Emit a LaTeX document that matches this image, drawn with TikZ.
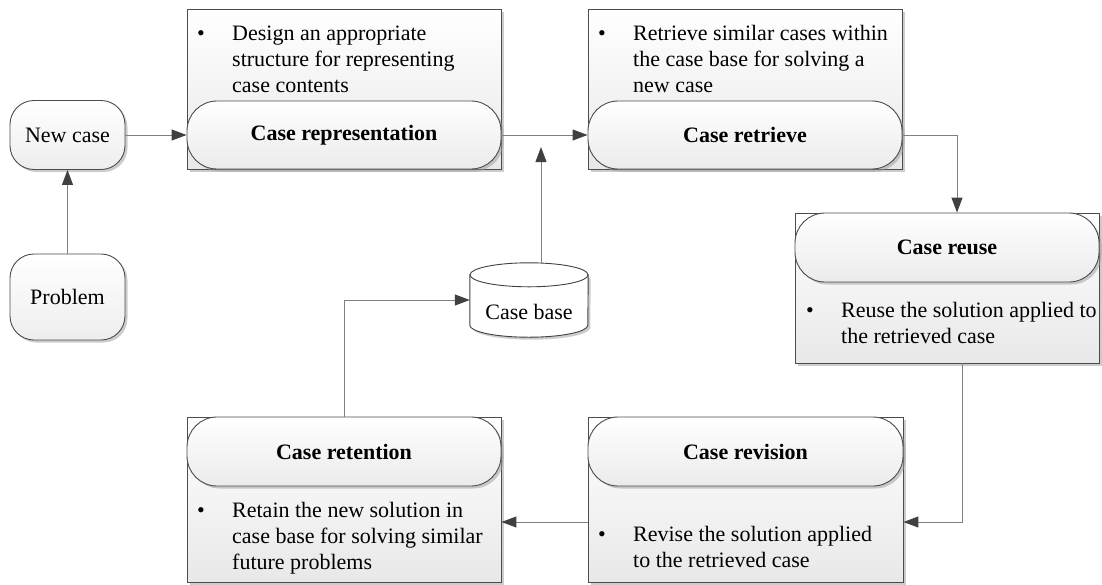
\documentclass[tikz,border=0pt]{standalone}
\usepackage{fontspec}
\setmainfont{Liberation Serif}
\usetikzlibrary{arrows.meta,shadows,calc}
\newcommand\bulletlist[1]{\begin{tabular}[t]{@{}p{35pt}@{}l@{}}\textbullet & #1\end{tabular}}
\begin{document}
\begin{tikzpicture}[x=1pt,y=-1pt,
  txt/.style={font=\fontsize{22}{26}\selectfont},
  shad/.style={drop shadow={shadow xshift=2.5pt, shadow yshift=-2.5pt, fill=black!40, opacity=0.5}},
  outerbox/.style={draw=black!70, line width=0.9pt, top color=white, bottom color=black!9, shad, inner sep=0},
  titlebox/.style={outerbox, rounded corners=30pt, top color=white, bottom color=black!8,
     font=\fontsize{22}{26}\selectfont\bfseries},
  smallbox/.style={outerbox, rounded corners=24pt, bottom color=black!7, txt},
  bullettext/.style={txt, inner sep=0, anchor=base west},
  conn/.style={draw=black!50, line width=1pt},
  arr/.style={conn, -{Triangle[length=15pt,width=11pt,fill=black!75,color=black!75]}},
  cyl/.style={draw=black!75, line width=0.9pt, fill=white}
]
\useasboundingbox (0,0) rectangle (1102,584);

% left nodes
\node[smallbox, minimum width=115pt, minimum height=69pt] (new) at (67.5,135) {New case};
\node[smallbox, minimum width=115pt, minimum height=86pt] (prob) at (67.5,297) {Problem};

% case representation
\node[outerbox, minimum width=314pt, minimum height=160pt] (repO) at (344,89) {};
\node[titlebox, minimum width=314pt, minimum height=68pt] (repT) at (344,135) {Case representation};
\node[bullettext] (repD) at (197,40) {\bulletlist{Design an appropriate\\ & structure for representing\\ & case contents}};

% case retrieve
\node[outerbox, minimum width=314pt, minimum height=160pt] (retrO) at (745,89) {};
\node[titlebox, minimum width=314pt, minimum height=68pt] (retrT) at (745,135) {Case retrieve};
\node[bullettext] (retrD) at (598,40) {\bulletlist{Retrieve similar cases within\\ & the case base for solving a\\ & new case}};

% case reuse
\node[outerbox, minimum width=304pt, minimum height=150pt] (reuseO) at (947,288) {};
\node[titlebox, minimum width=304pt, minimum height=69pt] (reuseT) at (947,247.5) {Case reuse};
\node[bullettext] (reuseD) at (806,317) {\bulletlist{Reuse the solution applied to\\ & the retrieved case}};

% case revision
\node[outerbox, minimum width=315pt, minimum height=165pt] (revO) at (745.5,499.5) {};
\node[titlebox, minimum width=315pt, minimum height=69pt] (revT) at (745.5,451.5) {Case revision};
\node[bullettext] (revD) at (598,541) {\bulletlist{Revise the solution applied\\ & to the retrieved case}};

% case retention
\node[outerbox, minimum width=314pt, minimum height=165pt] (retO) at (344,499.5) {};
\node[titlebox, minimum width=314pt, minimum height=69pt] (retT) at (344,451.5) {Case retention};
\node[bullettext] (retD) at (197,517) {\bulletlist{Retain the new solution in\\ & case base for solving similar\\ & future problems}};

% case base (cylinder)
\node[minimum width=118pt, minimum height=74pt, inner sep=0] (cb) at (529,300) {};
\path[cyl, shad] ($(cb.north west)+(0,12)$) -- ($(cb.south west)+(0,-12)$)
   arc[start angle=180, end angle=0, x radius=59, y radius=12]
   -- ($(cb.north east)+(0,12)$) -- cycle;
\path[cyl] ($(cb.north)+(0,12)$) ellipse[x radius=59, y radius=12];
\node[txt] (cbl) at ($(cb.center)+(0,12)$) {Case base};

% connectors
\coordinate (j) at (541,147);
\draw[arr] (prob.north) -- (new.south);
\draw[arr] (new.east) -- (repT.west);
\draw[arr] (repT.east) -- (retrT.west);
\draw[arr] (cb.north -| j) -- (j);
\draw[arr] (retrT.east) -| ([xshift=10pt]reuseT.north);
\draw[arr] ([xshift=15pt]reuseO.south) |- ([yshift=-22.5pt]revO.east);
\draw[arr] ([yshift=-22.5pt]revO.west) -- ([yshift=-22.5pt]retO.east);
\draw[arr] (retT.north) |- (cb.west);
\end{tikzpicture}
\end{document}
